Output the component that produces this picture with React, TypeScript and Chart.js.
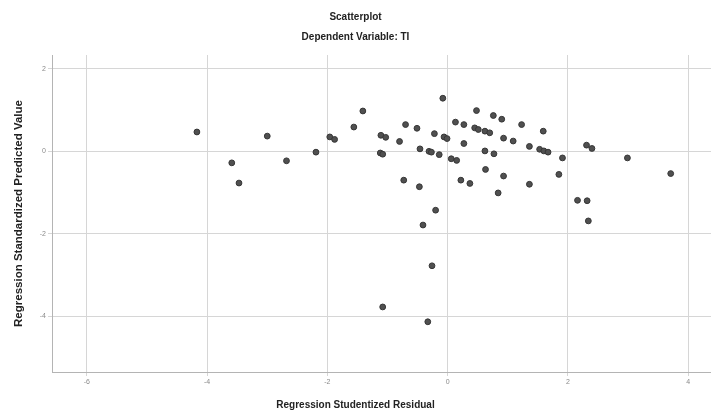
import React, { useEffect, useRef } from "react";
import { Chart, registerables } from "chart.js";

Chart.register(...registerables);

const chartTitle = "Scatterplot";
const chartSubtitle = "Dependent Variable: TI";
const xAxisTitle = "Regression Studentized Residual";
const yAxisTitle = "Regression Standardized Predicted Value";

const xTicks = [-6, -4, -2, 0, 2, 4];
const yTicks = [-4, -2, 0, 2];

const residuals = [
  -4.17, -3.0, -3.59, -3.47, -2.68, -2.19, -1.96, -1.88, -1.56, -1.41,
  -1.11, -1.03, -1.12, -1.08, -0.8, -0.7, -0.51, -0.46, -0.31, -0.27,
  -0.14, -0.22, -0.06, -0.01, -0.08, 0.06, 0.15, 0.13, 0.27, 0.48,
  0.45, 0.51, 0.62, 0.7, 0.27, 0.76, 0.9, 1.23, 0.93, 1.09,
  0.62, 0.77, 1.36, 1.53, 1.6, 1.67, 1.59, 1.91, 1.85, 2.31,
  2.4, 2.99, 3.71, 2.16, 2.32, 2.34, 0.63, 0.93, 1.36, -0.73,
  -0.47, 0.22, 0.37, 0.84, -0.2, -0.41, -0.26, -1.08, -0.33,
];

const predicted = [
  0.47, 0.37, -0.28, -0.77, -0.23, -0.02, 0.35, 0.29, 0.59, 0.98,
  0.39, 0.34, -0.04, -0.07, 0.24, 0.65, 0.56, 0.06, 0.0, -0.02,
  -0.08, 0.43, 0.35, 0.31, 1.29, -0.18, -0.22, 0.71, 0.65, 0.99,
  0.57, 0.53, 0.49, 0.45, 0.19, 0.87, 0.78, 0.65, 0.32, 0.25,
  0.01, -0.06, 0.12, 0.05, 0.01, -0.02, 0.49, -0.16, -0.56, 0.15,
  0.07, -0.16, -0.54, -1.19, -1.2, -1.69, -0.44, -0.6, -0.8, -0.7,
  -0.86, -0.7, -0.78, -1.01, -1.43, -1.79, -2.78, -3.78, -4.14,
];

const FONT = "'Liberation Sans', Arial, sans-serif";

export default function App() {
  const ref = useRef<HTMLCanvasElement | null>(null);

  useEffect(() => {
    if (!ref.current) return;
    const points = residuals.map((x, i) => ({ x, y: predicted[i] }));
    const chart = new Chart(ref.current, {
      type: "scatter",
      data: {
        datasets: [
          {
            data: points,
            backgroundColor: "#505050",
            borderColor: "#363636",
            borderWidth: 1,
            pointRadius: 2.9,
          },
        ],
      },
      options: {
        animation: false,
        responsive: false,
        maintainAspectRatio: false,
        layout: { padding: 0, autoPadding: false },
        plugins: {
          legend: { display: false },
          tooltip: { enabled: false },
          title: {
            display: true,
            text: [chartTitle, chartSubtitle],
            color: "#222",
            font: { family: FONT, size: 10, weight: "bold", lineHeight: 2 },
            padding: { top: 7, bottom: 8 },
          },
          subtitle: {
            display: true,
            position: "bottom",
            text: xAxisTitle,
            color: "#222",
            font: { family: FONT, size: 10, weight: "bold", lineHeight: 1.2 },
            padding: { top: 0, bottom: 3 },
          },
        },
        scales: {
          x: {
            type: "linear",
            min: -6.58,
            max: 4.38,
            afterBuildTicks: (s: any) => {
              s.ticks = xTicks.map((v) => ({ value: v }));
            },
            afterFit: (s: any) => {
              s.height = 27;
              s.paddingLeft = 0;
              s.paddingRight = 0;
            },
            grid: {
              color: "#d6d6d6",
              lineWidth: 1,
              tickLength: 4,
            },
            border: { color: "#b4b4b4", width: 1 },
            ticks: {
              color: "#8a8a8a",
              font: { family: FONT, size: 7 },
              padding: 2,
              maxRotation: 0,
            },
          },
          y: {
            type: "linear",
            min: -5.36,
            max: 2.34,
            afterBuildTicks: (s: any) => {
              s.ticks = yTicks.map((v) => ({ value: v }));
            },
            afterFit: (s: any) => {
              s.width = 52;
              s.paddingTop = 0;
              s.paddingBottom = 0;
            },
            grid: {
              color: "#d6d6d6",
              lineWidth: 1,
              tickLength: 4,
            },
            border: { color: "#b4b4b4", width: 1 },
            ticks: {
              color: "#8a8a8a",
              font: { family: FONT, size: 7 },
              padding: 2,
            },
            title: {
              display: true,
              text: yAxisTitle,
              color: "#222",
              font: { family: FONT, size: 11.5, weight: "bold", lineHeight: 1.2 },
              padding: { top: 12, bottom: 0 },
            },
          },
        },
      },
    });
    return () => chart.destroy();
  }, []);

  return (
    <div
      style={{
        position: "absolute",
        left: 0,
        top: 0,
        width: 711,
        height: 414,
        background: "#ffffff",
      }}
    >
      <canvas
        ref={ref}
        width={711}
        height={414}
        style={{ display: "block", width: 711, height: 414 }}
      />
    </div>
  );
}
